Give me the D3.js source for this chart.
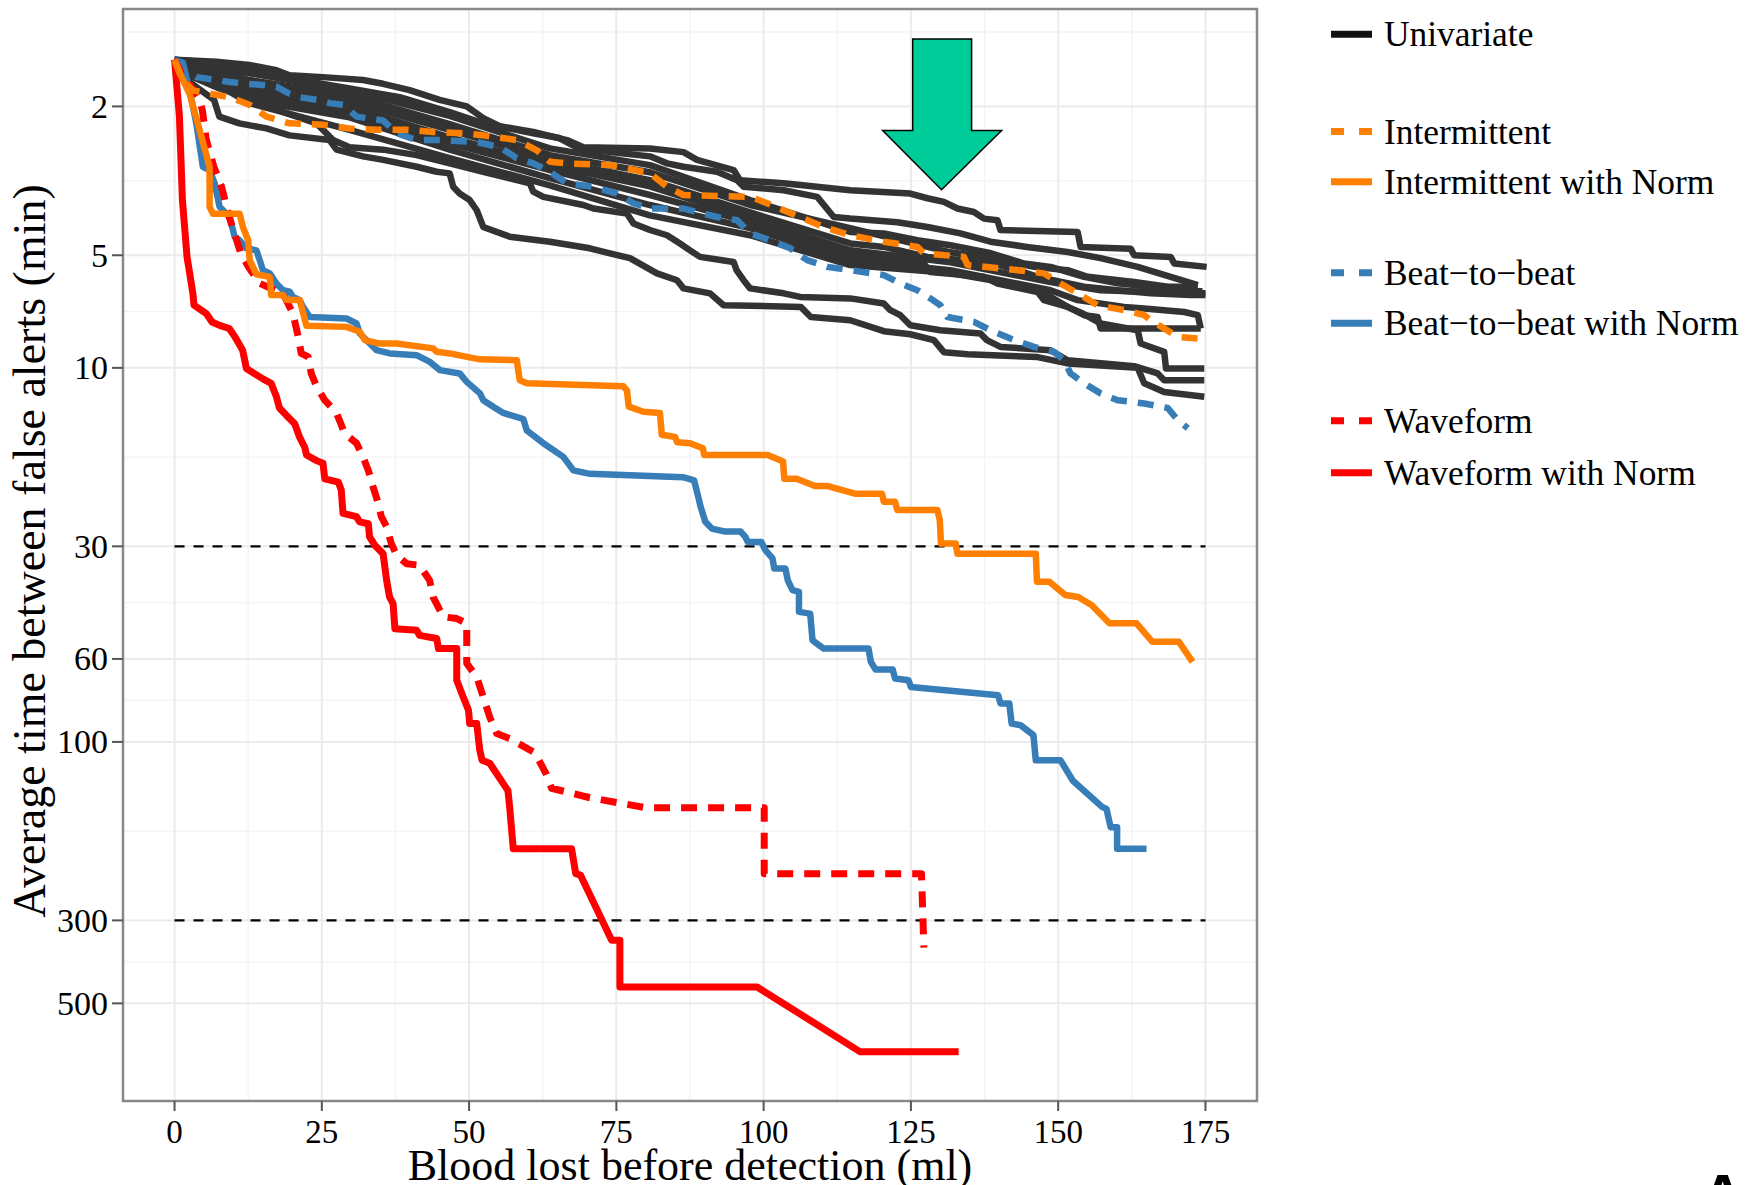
<!DOCTYPE html>
<html>
<head>
<meta charset="utf-8">
<script src="https://cdn.jsdelivr.net/npm/d3@7"></script>
<style>
  body { margin: 0; background: #fff; }
  text { font-family: "Liberation Serif", "Times New Roman", serif; fill: #000; }
</style>
</head>
<body>
<svg id="chart" width="1747" height="1185"></svg>
<script>
// AXES
var xTicks = [0, 25, 50, 75, 100, 125, 150, 175];
var yTicks = [2, 5, 10, 30, 60, 100, 300, 500];
var thresholds = [30, 300];

// SERIES: [blood lost (ml), average time between false alerts (min)]
var univariate = [
    [[0,1.50],[7.1,1.52],[12.7,1.55],[17.3,1.60],[19.5,1.65],[25.2,1.67],[32.0,1.70],[35.4,1.74],[39.9,1.81],[45.0,1.92],[49.6,2.00],[52.4,2.15],[55.2,2.26],[60.9,2.34],[66.6,2.46],[69.4,2.57],[80.7,2.59],[86.4,2.65],[88.7,2.78],[94.9,2.96],[96.0,3.15],[103.4,3.21],[114.7,3.35],[124.9,3.42],[127.8,3.52],[130.6,3.60],[132.9,3.75],[135.7,3.83],[137.4,3.99],[139.7,4.03],[140.2,4.28],[153.3,4.33],[153.8,4.75],[162.3,4.80],[162.9,5.00],[169.1,5.05],[169.7,5.26],[175.2,5.37]],
    [[0,1.50],[7.1,1.53],[12.7,1.58],[19.5,1.68],[29.7,1.79],[38.2,1.89],[46.7,2.07],[52.4,2.22],[60.9,2.36],[65.3,2.43],[68.2,2.57],[70.5,2.61],[80.7,2.72],[83.6,2.84],[86.4,2.90],[92.1,2.99],[95.5,3.15],[96.6,3.28],[103.4,3.35],[109.1,3.49],[111.9,3.95],[114.7,3.99],[122.7,4.08],[127.8,4.20],[133.4,4.37],[138.5,4.60],[144.7,4.75],[151.6,4.90],[157.2,5.09],[163.5,5.37],[169.1,5.71],[173.7,6.01]],
    [[0,1.50],[12.7,1.63],[29.7,1.81],[46.7,2.12],[63.7,2.59],[80.7,2.87],[97.7,3.56],[114.7,4.33],[120.4,4.37],[126.1,4.56],[131.7,4.70],[138.6,4.94],[144.2,5.26],[148.7,5.37],[154.4,5.71],[160.1,5.94],[165.7,6.07],[173.1,6.32],[175,6.32]],
    [[0,1.50],[12.7,1.70],[29.7,1.87],[46.7,2.23],[63.7,2.70],[80.7,3.00],[97.7,3.67],[114.7,4.23],[131.7,4.91],[140.2,5.15],[145.9,5.37],[151.6,5.48],[155.0,5.71],[162.9,5.89],[168.6,6.07],[173.7,6.07]],
    [[0,1.50],[12.7,1.76],[29.7,1.94],[46.7,2.31],[63.7,2.78],[80.7,3.15],[97.7,3.84],[114.7,4.65],[120.4,4.75],[127.8,5.05],[133.4,5.15],[139.1,5.26],[143.1,5.48],[146.5,5.71],[154.4,6.07],[160.1,6.20],[165.7,6.32],[172.5,6.39],[175,6.39]],
    [[0,1.50],[12.7,1.81],[29.7,2.01],[46.7,2.42],[63.7,2.87],[80.7,3.27],[97.7,3.98],[114.7,4.85],[131.7,5.22],[148.7,5.90],[157.2,6.20],[165.7,6.27],[174.5,6.24]],
    [[0,1.50],[12.7,1.87],[29.7,2.07],[46.7,2.51],[63.7,2.96],[80.7,3.45],[97.7,4.08],[114.7,5.00],[127.2,5.26],[128.3,5.54],[137.4,5.71],[139.7,5.95],[146.5,6.27],[147.6,6.59],[151.6,6.87],[154.4,7.23],[156.7,7.31],[157.2,7.85],[174.2,7.85]],
    [[0,1.50],[12.7,1.92],[29.7,2.14],[46.7,2.61],[63.7,3.11],[80.7,3.67],[97.7,4.23],[114.7,5.15],[131.7,5.48],[148.7,6.20],[153.3,6.59],[161.2,6.87],[164.6,6.94],[171.4,7.09],[173.7,7.23],[174.2,7.85]],
    [[0,1.50],[12.7,1.96],[29.7,2.31],[46.7,2.75],[63.7,3.25],[80.7,3.91],[97.7,4.42],[114.7,5.31],[131.7,5.58],[140.2,5.89],[145.8,6.13],[148.7,6.46],[151.6,6.87],[154.2,7.16],[157.2,7.61],[163.5,7.93],[164.0,8.61],[168.0,9.06],[168.3,10.04],[174.8,10.04]],
    [[0,1.50],[3.1,1.67],[7.6,1.79],[12.7,1.90],[18.4,2.07],[24.1,2.22],[26.9,2.46],[29.7,2.57],[35.4,2.61],[41.1,2.70],[46.7,2.84],[52.4,2.99],[58.1,3.15],[60.3,3.21],[60.9,3.38],[62.6,3.49],[69.4,3.67],[71.1,3.75],[76.8,3.87],[77.9,4.11],[80.7,4.28],[83.6,4.42],[85.8,4.65],[87.5,4.85],[89.2,5.05],[94.9,5.21],[95.4,5.48],[96.6,5.83],[97.7,6.13],[103.4,6.32],[106.2,6.46],[114.7,6.52],[120.4,6.73],[121.5,7.01],[123.2,7.23],[124.9,7.69],[130.0,7.93],[136.8,8.09],[137.9,8.43],[140.2,8.79],[148.7,8.97],[151.6,9.54],[162.9,9.90],[166.9,10.35],[168.0,10.79],[174.8,10.79]],
    [[0,1.50],[2.1,1.70],[6.7,1.92],[7.6,2.13],[11.0,2.22],[15.6,2.29],[19.5,2.39],[26.3,2.46],[27.5,2.61],[32.0,2.72],[35.4,2.78],[41.1,2.90],[44.5,2.99],[46.7,3.02],[47.3,3.28],[48.4,3.42],[50.1,3.56],[51.3,3.79],[52.4,4.20],[56.9,4.46],[63.7,4.60],[70.5,4.79],[73.9,4.94],[77.3,5.09],[81.9,5.59],[85.3,5.83],[86.4,6.13],[90.9,6.32],[93.2,6.80],[106.3,6.87],[108.0,7.31],[114.7,7.46],[120.4,7.98],[124.9,8.13],[128.9,8.43],[130.6,9.08],[134.6,9.19],[146.5,9.36],[151.6,9.73],[163.5,9.99],[164.6,11.0],[168.0,11.6],[174.8,11.95]]
];

var intermittent = [[0,1.50],[1.4,1.70],[3.1,1.81],[6.0,1.85],[9.3,1.89],[10.5,1.92],[12.7,1.98],[15.6,2.13],[19.5,2.22],[25.2,2.24],[29.7,2.29],[34.3,2.31],[39.4,2.31],[43.9,2.34],[49.0,2.36],[52.4,2.39],[58.1,2.46],[61.5,2.62],[63.7,2.81],[66.6,2.84],[73.9,2.87],[76.8,2.93],[80.7,3.02],[83.6,3.28],[86.4,3.45],[92.1,3.47],[97.7,3.49],[100.6,3.63],[103.4,3.79],[106.2,3.95],[110.2,4.20],[114.7,4.42],[120.4,4.60],[126.1,4.75],[127.2,4.94],[134.0,5.05],[134.6,5.31],[143.1,5.48],[147.6,5.59],[149.9,5.89],[153.3,6.32],[156.7,6.80],[161.2,7.01],[164.6,7.23],[165.7,7.46],[168.0,7.85],[170.3,8.26],[175.4,8.40]];

var intermittentNorm = [[0,1.51],[0.85,1.63],[2.55,1.85],[4.25,2.31],[5.95,2.90],[5.95,3.71],[6.5,3.87],[11.05,3.87],[11.6,4.20],[12.5,4.56],[12.75,5.15],[13.9,5.62],[16.15,5.71],[16.4,6.39],[18.4,6.39],[19.0,6.59],[21.25,6.59],[22.4,7.72],[29.2,7.77],[31.45,8.01],[32.3,8.43],[34.85,8.61],[37.7,8.61],[43.9,8.87],[44.5,9.06],[46.7,9.15],[49.0,9.30],[51.85,9.49],[58.1,9.54],[58.6,10.8],[59.8,11.0],[76.2,11.2],[76.8,11.5],[77.1,12.7],[79.6,13.1],[82.4,13.2],[82.7,15.1],[85.0,15.3],[85.3,15.8],[87.5,15.9],[89.7,16.4],[89.9,17.1],[100.7,17.1],[103.3,17.8],[103.5,19.8],[105.6,19.8],[108.7,20.7],[110.9,20.7],[115.5,21.7],[120.1,21.7],[120.4,22.8],[122.3,22.8],[122.7,24.0],[129.5,24.0],[129.9,25.5],[130.1,29.5],[132.6,29.5],[132.9,31.4],[146.2,31.4],[146.4,37.3],[148.5,37.3],[151.2,40.5],[153.4,41.0],[155.7,43.1],[158.7,48.2],[163.3,48.2],[166.0,54.0],[170.5,54.0],[172.8,61.1]];

var beatToBeat = [[0,1.51],[1.4,1.60],[3.7,1.67],[7.1,1.70],[9.3,1.72],[12.2,1.74],[14.4,1.75],[17.3,1.77],[19.5,1.85],[21.2,1.89],[24.1,1.92],[26.3,1.96],[28.6,1.98],[30.9,2.13],[35.4,2.18],[37.7,2.36],[41.1,2.46],[45.0,2.46],[51.3,2.49],[55.2,2.57],[58.1,2.75],[60.9,2.84],[63.7,2.99],[66.6,3.21],[71.1,3.28],[75.1,3.42],[77.9,3.63],[80.7,3.75],[86.4,3.75],[89.8,3.87],[92.1,3.95],[95.5,4.03],[97.7,4.37],[101.1,4.56],[104.5,4.79],[107.4,5.15],[110.8,5.37],[114.7,5.48],[120.4,5.65],[123.2,5.95],[126.1,6.20],[128.3,6.52],[130.0,6.80],[131.2,7.31],[135.7,7.53],[138.5,7.93],[141.9,8.35],[145.9,8.79],[149.3,9.06],[151.0,9.54],[152.1,10.35],[154.4,11.0],[157.2,11.7],[160.1,12.2],[164.6,12.45],[168.6,12.8],[170.3,13.8],[172.0,14.5]];

var beatToBeatNorm = [[0,1.50],[1.41,1.53],[2.55,1.81],[3.69,2.22],[4.81,2.90],[5.95,2.96],[6.80,3.21],[7.65,3.71],[9.35,3.95],[10.2,4.46],[11.05,4.56],[12.19,4.79],[13.89,4.85],[14.45,5.15],[15.0,5.48],[16.15,5.59],[17.29,5.95],[18.41,6.20],[19.55,6.26],[20.1,6.46],[21.25,6.59],[21.81,6.87],[22.95,7.31],[29.19,7.38],[30.89,7.61],[31.45,8.09],[33.15,8.61],[34.29,8.97],[36.55,9.15],[41.08,9.25],[43.35,9.64],[45.05,10.14],[48.4,10.35],[49.6,10.9],[51.85,11.7],[52.4,12.2],[54.1,12.7],[55.8,13.2],[59.2,13.7],[59.8,14.7],[62.6,15.9],[66.0,17.3],[67.7,18.8],[70.5,19.2],[86.3,19.6],[88.2,20.0],[88.9,22.1],[89.3,23.5],[90.1,25.8],[91.2,26.9],[93.5,27.4],[96.1,27.4],[96.9,28.3],[97.3,29.2],[99.6,29.2],[100.3,30.7],[101.5,32.3],[101.8,34.4],[103.7,34.4],[104.1,37.0],[104.9,39.3],[106.0,39.7],[106.0,44.9],[107.9,45.4],[108.3,53.5],[110.2,56.3],[117.8,56.3],[118.2,61.1],[119.0,64.0],[121.9,64.0],[122.3,67.7],[124.6,68.4],[125.0,71.3],[139.8,75.0],[140.2,78.9],[141.7,78.9],[142.1,89.3],[143.6,90.2],[145.8,95.9],[146.2,112],[150.4,112],[152.5,127],[157.4,149],[158.2,151],[158.9,169],[160.0,169],[160.0,193],[165.0,193]];

var waveform = [[0,1.50],[1.48,1.67],[2.79,1.77],[4.08,1.89],[4.73,2.05],[5.39,2.46],[6.68,2.90],[7.99,3.28],[9.28,3.95],[11.24,4.94],[12.54,5.37],[14.48,5.95],[17.08,6.20],[18.4,6.32],[20.1,7.16],[21.0,8.26],[21.5,9.15],[22.7,9.35],[23.2,10.35],[24.1,11.2],[25.5,12.2],[27.5,13.2],[28.9,15.0],[30.9,15.9],[32.0,17.3],[32.9,18.8],[33.7,20.8],[34.6,23.1],[35.1,25.0],[36.0,26.6],[36.8,29.5],[37.7,31.7],[39.4,33.4],[41.6,33.7],[43.3,37.0],[43.9,41.0],[45.6,46.3],[47.9,46.8],[49.6,48.2],[49.6,61.7],[51.3,67.0],[52.4,75.8],[53.5,85.8],[54.7,95.0],[56.9,98.0],[61.2,107],[63.1,122],[64.0,133],[70.5,141],[80.1,150],[100.1,150],[100.1,225],[126.8,225],[127.2,355]];

var waveformNorm = [[0,1.50],[0.83,2.13],[1.34,3.57],[2.12,5.05],[3.11,6.32],[3.3,6.80],[5.39,7.16],[6.36,7.54],[7.65,7.70],[9.28,7.85],[10.27,8.27],[11.56,8.97],[12.2,10.04],[15.0,10.7],[16.4,11.0],[17.3,11.95],[17.8,12.8],[19.0,13.4],[20.4,14.1],[21.2,15.3],[22.1,16.3],[22.4,17.1],[24.1,17.7],[25.2,18.0],[25.5,19.8],[27.8,20.2],[28.3,21.2],[28.6,24.5],[30.9,25.0],[31.4,25.8],[32.9,26.1],[33.1,28.3],[34.0,29.8],[35.4,31.4],[36.0,37.0],[36.5,41.0],[37.1,42.7],[37.4,49.8],[41.1,50.3],[41.6,51.9],[44.5,52.9],[44.8,56.3],[47.9,56.3],[47.9,68.4],[49.0,75.9],[49.9,82.3],[50.1,89.3],[51.3,89.3],[51.8,105],[52.2,112],[53.5,114],[56.6,135],[56.9,150],[57.5,193],[67.4,193],[68.1,225],[68.9,227],[74.2,339],[75.6,339],[75.6,452],[98.9,452],[116.4,674],[133.1,674]];

var legendLabels = ['Univariate', 'Intermittent', 'Intermittent with Norm', 'Beat\u2212to\u2212beat', 'Beat\u2212to\u2212beat with Norm', 'Waveform', 'Waveform with Norm'];

// arrow annotation outline, in data units
var arrowOutline = [[125.3,1.32],[135.3,1.32],[135.3,2.32],[140.4,2.32],[130.2,3.34],[120.2,2.32],[125.3,2.32]];


var svg = d3.select('#chart');

var x = d3.scaleLinear().domain([-8.75, 183.75]).range([123, 1257]);
var y = d3.scaleLog().domain([1.098, 912]).range([9, 1101]);

var panelLeft = 123, panelRight = 1257, panelTop = 9, panelBottom = 1101;

// GRID //
var xMinor = d3.range(-12.5, 200, 25).filter(d => d > x.domain()[0] && d < x.domain()[1]);
var yMinor = [Math.sqrt(yTicks[0] * yTicks[0] / (yTicks[1] / yTicks[0]))];
for (var i = 0; i < yTicks.length - 1; i++) {
    yMinor.push(Math.sqrt(yTicks[i] * yTicks[i + 1]));
}

var grid = svg.append('g');

grid.selectAll('.xminor')
    .data(xMinor).enter().append('line')
    .attr('x1', d => x(d)).attr('x2', d => x(d))
    .attr('y1', panelTop).attr('y2', panelBottom)
    .style('stroke', '#f3f3f3').style('stroke-width', '1.3px');

grid.selectAll('.yminor')
    .data(yMinor).enter().append('line')
    .attr('x1', panelLeft).attr('x2', panelRight)
    .attr('y1', d => y(d)).attr('y2', d => y(d))
    .style('stroke', '#f3f3f3').style('stroke-width', '1.3px');

grid.selectAll('.xmajor')
    .data(xTicks).enter().append('line')
    .attr('x1', d => x(d)).attr('x2', d => x(d))
    .attr('y1', panelTop).attr('y2', panelBottom)
    .style('stroke', '#ebebeb').style('stroke-width', '2px');

grid.selectAll('.ymajor')
    .data(yTicks).enter().append('line')
    .attr('x1', panelLeft).attr('x2', panelRight)
    .attr('y1', d => y(d)).attr('y2', d => y(d))
    .style('stroke', '#ebebeb').style('stroke-width', '2px');

// threshold lines at 30 and 300 min
svg.selectAll('.threshold')
    .data(thresholds).enter().append('line')
    .attr('x1', x(0)).attr('x2', x(175))
    .attr('y1', d => y(d)).attr('y2', d => y(d))
    .style('stroke', '#000')
    .style('stroke-width', '2.2px')
    .style('stroke-dasharray', '10,9');

// LINES //
var line = d3.line()
    .x(d => x(d[0]))
    .y(d => y(d[1]));

var drawLine = (data, color, width, dash) => {
    svg.append('path')
        .attr('d', line(data))
        .attr('fill', 'none')
        .style('stroke', color)
        .style('stroke-width', width + 'px')
        .style('stroke-linejoin', 'round')
        .style('stroke-dasharray', dash || null);
};

univariate.forEach(d => drawLine(d, '#333333', 6.5));
drawLine(beatToBeat, '#377eb8', 6.5, '16,11');
drawLine(beatToBeatNorm, '#377eb8', 6.5);
drawLine(waveform, '#ff0000', 7, '16,11');
drawLine(waveformNorm, '#ff0000', 7);
drawLine(intermittent, '#ff7f00', 6.5, '16,11');
drawLine(intermittentNorm, '#ff7f00', 6.5);

// green arrow pointing at the univariate bundle
svg.append('polygon')
    .attr('points', arrowOutline.map(d => x(d[0]) + ',' + y(d[1])).join(' '))
    .attr('fill', '#00cc99')
    .style('stroke', '#000')
    .style('stroke-width', '1.5px');

// panel border
svg.append('rect')
    .attr('x', panelLeft).attr('y', panelTop)
    .attr('width', panelRight - panelLeft).attr('height', panelBottom - panelTop)
    .attr('fill', 'none')
    .style('stroke', '#888').style('stroke-width', '2.5px');

// AXES //
var xAxis = svg.append('g');
xAxis.selectAll('.tick')
    .data(xTicks).enter().append('line')
    .attr('x1', d => x(d)).attr('x2', d => x(d))
    .attr('y1', panelBottom).attr('y2', panelBottom + 10)
    .style('stroke', '#555').style('stroke-width', '2px');
xAxis.selectAll('.label')
    .data(xTicks).enter().append('text')
    .attr('x', d => x(d))
    .attr('y', 1143)
    .attr('text-anchor', 'middle')
    .style('font-size', '33px')
    .text(d => d);

var yAxis = svg.append('g');
yAxis.selectAll('.tick')
    .data(yTicks).enter().append('line')
    .attr('x1', panelLeft - 11).attr('x2', panelLeft)
    .attr('y1', d => y(d)).attr('y2', d => y(d))
    .style('stroke', '#555').style('stroke-width', '2px');
yAxis.selectAll('.label')
    .data(yTicks).enter().append('text')
    .attr('x', 108)
    .attr('y', d => y(d))
    .attr('dy', '0.34em')
    .attr('text-anchor', 'end')
    .style('font-size', '34px')
    .text(d => d);

svg.append('text')
    .attr('x', (panelLeft + panelRight) / 2)
    .attr('y', 1180)
    .attr('text-anchor', 'middle')
    .style('font-size', '44px')
    .text('Blood lost before detection (ml)');

svg.append('text')
    .attr('transform', `translate(45, ${(panelTop + panelBottom) / 2 - 4}) rotate(-90)`)
    .attr('text-anchor', 'middle')
    .style('font-size', '46px')
    .text('Average time between false alerts (min)');

// LEGEND //
var legendRows = [34.3, 131.5, 181.7, 272.7, 323.3, 420.7, 472.7];
var legendStyle = [
    {color: '#111111', dash: null},
    {color: '#ff7f00', dash: '13,15'},
    {color: '#ff7f00', dash: null},
    {color: '#377eb8', dash: '13,15'},
    {color: '#377eb8', dash: null},
    {color: '#ff0000', dash: '13,15'},
    {color: '#ff0000', dash: null}
];

var legend = svg.selectAll('.legend')
    .data(legendLabels).enter().append('g')
    .attr('transform', (d, i) => `translate(0, ${legendRows[i]})`);

legend.append('line')
    .attr('x1', 1331).attr('x2', 1372)
    .attr('y1', 0).attr('y2', 0)
    .style('stroke', (d, i) => legendStyle[i].color)
    .style('stroke-width', '7px')
    .style('stroke-dasharray', (d, i) => legendStyle[i].dash);

legend.append('text')
    .attr('x', 1384)
    .attr('y', 12)
    .style('font-size', '35.4px')
    .text(d => d);

// panel letter cut off at the bottom right of the figure
svg.append('text')
    .attr('x', 1701)
    .attr('y', 1216)
    .style('font-family', '"Liberation Sans", Arial, sans-serif')
    .style('font-weight', 'bold')
    .style('font-size', '60px')
    .text('A');
</script>
</body>
</html>
